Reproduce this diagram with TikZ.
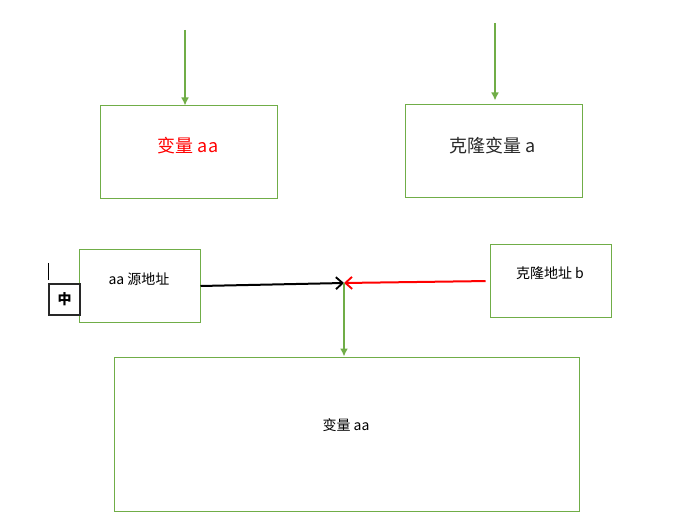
\documentclass[tikz,border=0pt]{standalone}
\usepackage{fontspec}
\newfontfamily\cjk{Noto Sans CJK SC}
\usetikzlibrary{arrows.meta}
\definecolor{grn}{RGB}{112,173,71}
\definecolor{dk}{RGB}{40,40,40}
\newdimen\px \px=0.75pt
\begin{document}
\begin{tikzpicture}[x=0.75pt,y=-0.75pt,
  box/.style={draw=grn, line width=0.75pt, fill=white, inner sep=0pt},
  big/.style={font=\cjk\fontsize{13.5}{16}\selectfont, inner sep=0pt},
  small/.style={font=\cjk\fontsize{10.5}{13}\selectfont, inner sep=0pt},
  garrow/.style={draw=grn, line width=1.5pt, -{Latex[length=6pt,width=6pt]}},
  varrow/.style={line width=1.5pt, -{Straight Barb[length=5pt,width=9pt,line width=1.4pt]}}]
\useasboundingbox (0,0) rectangle (692,527);
% boxes
\node[box, minimum width=177\px, minimum height=93\px] (b1) at (188.5,152.5) {};
\node[box, minimum width=177\px, minimum height=93\px] (b2) at (493.5,151.5) {};
\node[box, minimum width=121\px, minimum height=72\px] (b3) at (139.5,286) {};
\node[box, minimum width=121\px, minimum height=72\px] (b4) at (550.5,281) {};
\node[box, minimum width=465\px, minimum height=154\px] (b5) at (346.5,434) {};
% texts
\node[big, text=red] (t1) at (188,146) {变量 aa};
\node[big, text=dk] (t2) at (493,146) {克隆变量 a};
\node[small] (t3) at (139,279) {aa 源地址};
\node[small] (t4) at (550,273) {克隆地址 b};
\node[small] (t5) at (346,425) {变量 aa};
% IME indicator
\node[draw=dk, line width=1.5pt, fill=white, minimum width=31\px, minimum height=31\px, inner sep=0pt, font=\cjk\bfseries\fontsize{10.5}{12}\selectfont] (ime) at (64.5,299.5) {中};
\coordinate (c1) at (48,263);
\coordinate (c2) at (48,280);
\draw[line width=0.75pt] (c1) -- (c2);
% connectors
\coordinate (s1) at (185,30);
\coordinate (s2) at (495,23);
\coordinate (j) at (344,283);
\draw[garrow] (s1) -- (s1 |- b1.north);
\draw[garrow, shorten >=3pt] (s2) -- (s2 |- b2.north);
\draw[varrow, black] (b3.east) -- (j);
\draw[varrow, red, shorten <=3pt] (b4.west) -- (j);
\draw[garrow] (j) -- (j |- b5.north);
\end{tikzpicture}
\end{document}
